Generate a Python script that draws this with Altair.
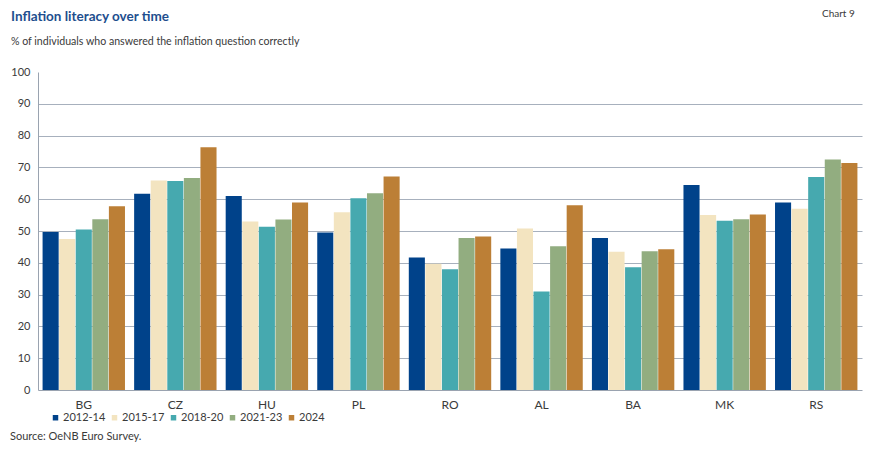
import altair as alt
import pandas as pd

countries = ["BG", "CZ", "HU", "PL", "RO", "AL", "BA", "MK", "RS"]
periods = ["2012-14", "2015-17", "2018-20", "2021-23", "2024"]
colors = ["#00428A", "#F3E4C0", "#46A9AF", "#92AD80", "#BC7F36"]

v_2012_14 = [49.7, 61.7, 61.0, 49.5, 41.7, 44.5, 47.8, 64.5, 59.0]
v_2015_17 = [47.5, 65.9, 53.0, 55.9, 39.7, 50.8, 43.5, 55.0, 57.0]
v_2018_20 = [50.5, 65.7, 51.3, 60.3, 38.0, 31.0, 38.6, 53.2, 67.0]
v_2021_23 = [53.7, 66.7, 53.6, 61.9, 47.8, 45.2, 43.6, 53.7, 72.5]
v_2024 = [57.8, 76.3, 59.0, 67.1, 48.3, 58.1, 44.3, 55.2, 71.4]

title_text = "Inflation literacy over time"
subtitle_text = "% of individuals who answered the inflation question correctly"
chart_no = "Chart 9"
source_text = "Source: OeNB Euro Survey."

series = [v_2012_14, v_2015_17, v_2018_20, v_2021_23, v_2024]
rows = []
for p, vals in zip(periods, series):
    for c, v in zip(countries, vals):
        rows.append({"country": c, "period": p, "value": v})
df = pd.DataFrame(rows)

FONT = "Lato"
TXT = "#3a3a3a"

bars = alt.Chart(df).mark_bar().encode(
    x=alt.X("country:N", sort=countries, title=None,
            scale=alt.Scale(paddingInner=0.1, paddingOuter=0.05),
            axis=alt.Axis(labelAngle=0, ticks=False, labelPadding=9, labelFontSize=12,
                          labelColor=TXT, labelFont=FONT, domainColor="#9aa3b0",
                          domainWidth=1, grid=False)),
    xOffset=alt.XOffset("period:N", sort=periods, scale=alt.Scale(paddingInner=0.03)),
    y=alt.Y("value:Q", title=None,
            scale=alt.Scale(domain=[0, 100], nice=False),
            axis=alt.Axis(values=list(range(0, 101, 10)), ticks=False, labelPadding=8,
                          labelFontSize=11, labelColor=TXT, labelFont=FONT,
                          domainColor="#9aa3b0", domainWidth=1,
                          grid=True, gridWidth=1,
                          gridColor={"condition": {"test": "datum.value === 100 || datum.value === 0",
                                                   "value": "transparent"},
                                     "value": "#a7b0bd"})),
    color=alt.Color("period:N", sort=periods,
                    scale=alt.Scale(domain=periods, range=colors),
                    legend=alt.Legend(title=None, orient="none", direction="horizontal",
                                      legendX=12, legendY=340, symbolType="square",
                                      symbolSize=30, symbolStrokeWidth=0,
                                      labelFontSize=11, labelColor=TXT, labelFont=FONT,
                                      columnPadding=3, labelOffset=2)),
)


def text_layer(txt, x, y, size, color=TXT, weight="normal"):
    d = pd.DataFrame({"t": [txt]})
    return alt.Chart(d).mark_text(align="left", baseline="middle", fontSize=size,
                                  font=FONT, color=color, fontWeight=weight).encode(
        x=alt.value(x), y=alt.value(y), text="t:N")


title = text_layer(title_text, -27, -55, 13.5, "#1E4E8E", "bold")
subtitle = text_layer(subtitle_text, -27, -30, 10.6)
chart_label = text_layer(chart_no, 784, -58, 10)
source = text_layer(source_text, -28, 365, 11)

chart = alt.layer(bars, title, subtitle, chart_label, source).properties(
    width=824, height=318,
    autosize=alt.AutoSizeParams(type="none"),
    padding={"left": 30, "top": 64, "right": 23, "bottom": 56},
).configure(background="white").configure_view(stroke=None)

chart.save("out.html", embed_options={"renderer": "svg", "actions": False})
